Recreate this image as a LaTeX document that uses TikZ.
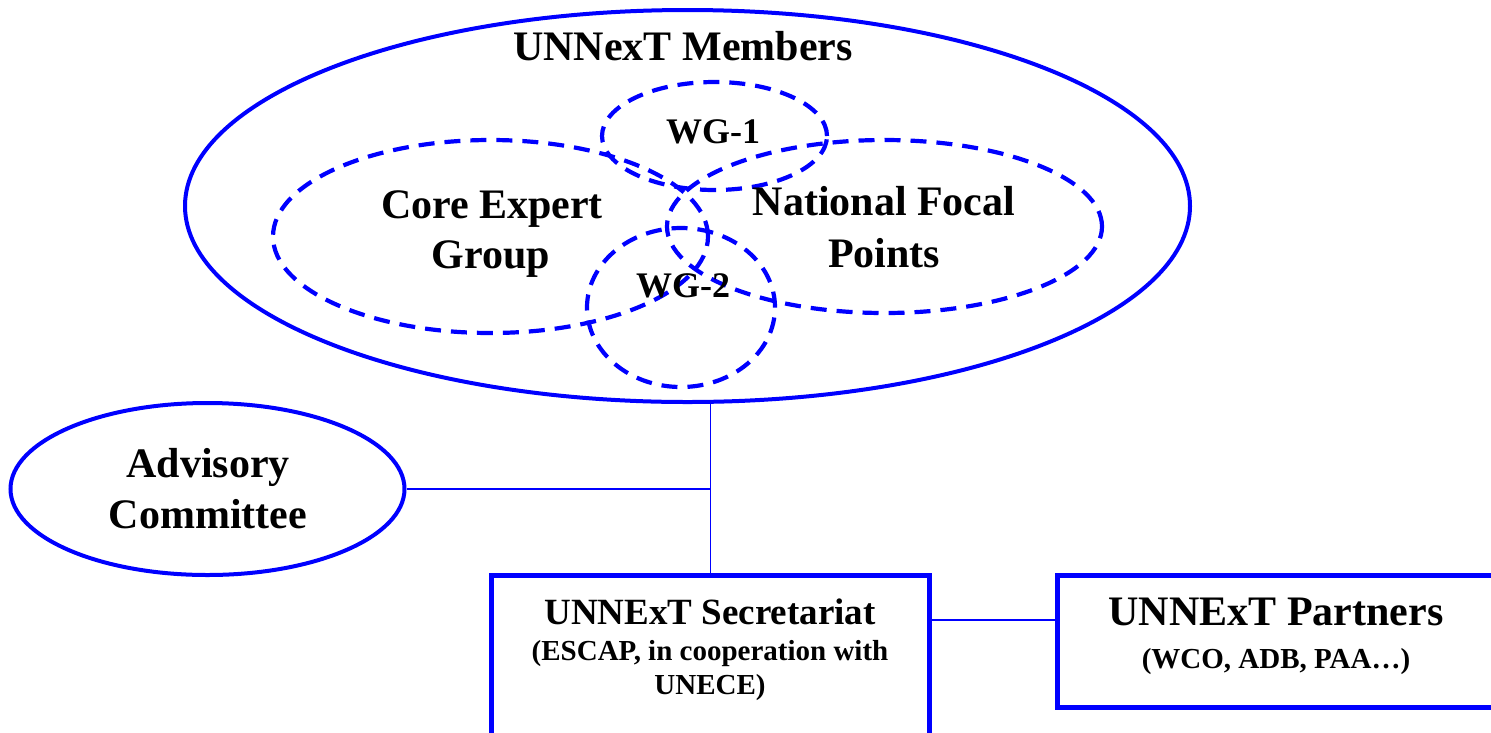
\documentclass[tikz,border=0pt]{standalone}
\usepackage{fontspec}
\setmainfont{Liberation Serif}
\usetikzlibrary{shapes.geometric}
\definecolor{ublue}{RGB}{0,0,255}
\begin{document}
\begin{tikzpicture}[x=1pt,y=-1pt,
  solidell/.style={draw=ublue,line width=4pt,ellipse,inner sep=0pt},
  venn/.style={draw=ublue,line width=4.2pt,ellipse,inner sep=0pt,dash pattern=on 16pt off 10pt},
  boxline/.style={draw=ublue,line width=4.8pt},
  conn/.style={draw=ublue,line width=1.7pt},
  txtL/.style={font=\fontsize{42}{50}\selectfont\bfseries,inner sep=0pt,anchor=base},
  txtM/.style={font=\fontsize{36}{42}\selectfont\bfseries,inner sep=0pt,anchor=base},
  txtS/.style={font=\fontsize{37}{44}\selectfont\bfseries,inner sep=0pt,anchor=base},
  txtXS/.style={font=\fontsize{29}{34}\selectfont\bfseries,inner sep=0pt,anchor=base},
  frame/.style={draw=none,inner sep=0pt}
]
\useasboundingbox (0,0) rectangle (1491,732);

% ellipses
\node[solidell,minimum width=1005pt,minimum height=392pt] (members) at (687.5,206) {};
\node[venn,minimum width=435pt,minimum height=193pt] (core) at (490.5,236.5) {};
\node[venn,minimum width=435pt,minimum height=173pt] (nfp) at (884.5,226.5) {};
\node[venn,minimum width=225pt,minimum height=108pt] (wg1) at (714.5,136) {};
\node[venn,minimum width=188pt,minimum height=159pt] (wg2) at (681,307.5) {};
\node[solidell,minimum width=394pt,minimum height=172pt] (adv) at (207.5,489) {};

% boxes
\node[frame,minimum width=437pt,minimum height=160pt] (sec) at (710.5,656) {};
\draw[boxline] (sec.south west) -- (sec.north west) -- (sec.north east) -- (sec.south east);
\node[frame,minimum width=442pt,minimum height=131pt] (part) at (1279,641.5) {};
\draw[boxline] (part.north east) -- (part.north west) -- (part.south west) -- (part.south east);

% texts
\node[txtL] (tmembers) at (683,60) {UNNexT Members};
\node[txtM] (twg1) at (713,143) {WG-1};
\node[txtM] (twg2) at (683,297) {WG-2};
\node[txtL] (tcore1) at (492,218) {Core Expert};
\node[txtL] (tcore2) at (491,268) {Group};
\node[txtL] (tnfp1) at (884,215) {National Focal};
\node[txtL] (tnfp2) at (884,267) {Points};
\node[txtL] (tadv1) at (208,477) {Advisory};
\node[txtL] (tadv2) at (208,528) {Committee};
\node[txtS] (tsec1) at (710,624) {UNNExT Secretariat};
\node[txtXS] (tsec2) at (710,660) {(ESCAP, in cooperation with};
\node[txtXS] (tsec3) at (710,694) {UNECE)};
\node[txtL] (tpart1) at (1276,625) {UNNExT Partners};
\node[txtXS] (tpart2) at (1276,668) {(WCO, ADB, PAA\ldots)};

% connectors
\draw[conn] (sec.north) -- (sec.north |- members.south);
\draw[conn] (adv.east) -- (adv.east -| sec.north);
\path (sec.north east) ++(0,44) coordinate (j1);
\draw[conn] (j1) -- (j1 -| part.west);
\end{tikzpicture}
\end{document}
